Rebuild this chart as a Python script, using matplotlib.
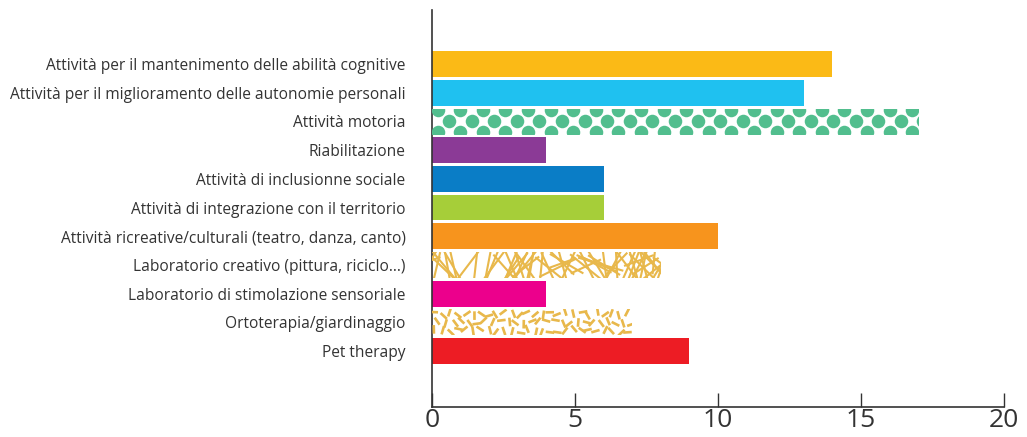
import numpy as np
import matplotlib
matplotlib.use("Agg")
import matplotlib.pyplot as plt
from matplotlib.collections import LineCollection

plt.rcParams['font.family'] = ['Open Sans', 'DejaVu Sans']

categories = [
    "Attività per il mantenimento delle abilità cognitive",
    "Attività per il miglioramento delle autonomie personali",
    "Attività motoria",
    "Riabilitazione",
    "Attività di inclusionne sociale",
    "Attività di integrazione con il territorio",
    "Attività ricreative/culturali (teatro, danza, canto)",
    "Laboratorio creativo (pittura, riciclo...)",
    "Laboratorio di stimolazione sensoriale",
    "Ortoterapia/giardinaggio",
    "Pet therapy",
]
values = [14, 13, 17, 4, 6, 6, 10, 8, 4, 7, 9]
colors = ["#FBBA16", "#1FC1F0", "#52BE8E", "#8B3A96", "#0A7DC6", "#A6CE39",
          "#F7941D", "#E8B84B", "#EC008C", "#E8B84B", "#ED1C24"]
# fill style per bar: solid, dots, lines, dashes
styles = ["solid", "solid", "dots", "solid", "solid", "solid",
          "solid", "lines", "solid", "dashes", "solid"]
xticks = [0, 5, 10, 15, 20]

fig = plt.figure(figsize=(10.27, 4.37), dpi=100)
ax = fig.add_axes([0.4206, 0.0686, 0.557, 0.9084])

y = np.arange(len(categories))
h = 0.9
rng = np.random.default_rng(3)

for i, (v, c, s) in enumerate(zip(values, colors, styles)):
    if s == "solid":
        ax.barh(i, v, height=h, color=c, zorder=2)
        continue
    bar = ax.barh(i, v, height=h, color="white", zorder=2)[0]
    if s == "dots":
        step = 0.79
        for k, dy in enumerate([-0.385, 0, 0.385]):
            off = 0.0 if k % 2 == 0 else step / 2
            xs = np.arange(0.2 + off, v + step, step)
            sc = ax.scatter(xs, np.full_like(xs, i + dy), s=95, color=c,
                            linewidths=0, zorder=3)
            sc.set_clip_path(bar)
    elif s == "lines":
        segs = []
        n = int(v * 8)
        for _ in range(n):
            x0 = rng.uniform(-0.3, v + 0.3)
            ang = rng.uniform(0.25, np.pi - 0.25)
            L = rng.uniform(1.0, 1.8)
            dx, dy = np.cos(ang) * L / 2, np.sin(ang) * L / 2
            yc = i + rng.uniform(-0.2, 0.2)
            segs.append([(x0 - dx, yc - dy), (x0 + dx, yc + dy)])
        lc = LineCollection(segs, colors=c, linewidths=1.5, zorder=3)
        ax.add_collection(lc)
        lc.set_clip_path(bar)
    elif s == "dashes":
        segs = []
        gx = 0.27
        for r, ry in enumerate([-0.3, 0.0, 0.3]):
            xs = np.arange(0.1 + (gx / 2) * (r % 2), v, gx)
            for xc in xs:
                xc = xc + rng.uniform(-0.06, 0.06)
                yc = i + ry + rng.uniform(-0.08, 0.08)
                ang = rng.uniform(0, np.pi)
                L = 0.3
                dx, dy = np.cos(ang) * L / 2, np.sin(ang) * L / 2
                segs.append([(xc - dx, yc - dy), (xc + dx, yc + dy)])
        lc = LineCollection(segs, colors=c, linewidths=1.9, zorder=3,
                            capstyle="butt")
        ax.add_collection(lc)
        lc.set_clip_path(bar)

ax.set_xlim(0, 20)
ax.set_ylim(len(categories) - 1 + 1.95, -1.88)
ax.set_yticks(y)
ax.set_yticklabels(categories, fontsize=11.2, color="#333333")
ax.tick_params(axis="y", length=0, pad=19)
ax.set_xticks(xticks)
ax.set_xticklabels([str(t) for t in xticks], fontsize=19, color="#333333")
ax.tick_params(axis="x", direction="in", length=10, width=1, color="#333333", pad=1)

for side in ["top", "right"]:
    ax.spines[side].set_visible(False)
for side in ["left", "bottom"]:
    ax.spines[side].set_color("#333333")
    ax.spines[side].set_linewidth(1.2)

fig.savefig("out.png", dpi=100)
